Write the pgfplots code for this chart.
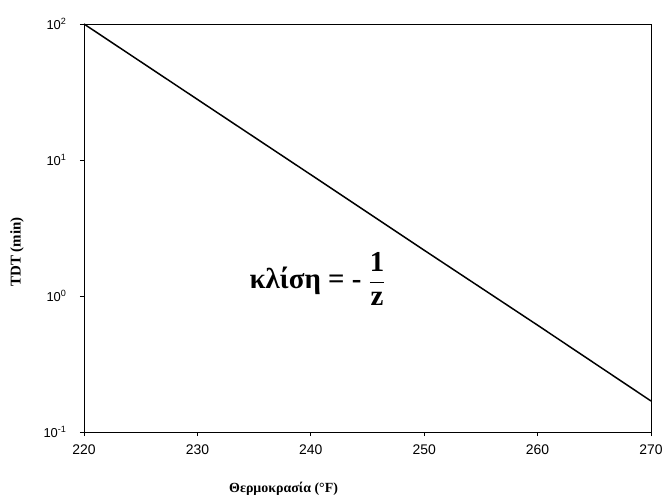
\documentclass[border=0pt]{standalone}
\usepackage{pgfplots}
\pgfplotsset{compat=1.18}
\usepackage{fontspec}
\setmainfont{Liberation Serif}
\setsansfont{Liberation Sans}

\begin{document}
\begin{tikzpicture}
\begin{axis}[
    scale only axis,
    width=567bp, height=408bp,
    ymode=log,
    xmin=220, xmax=270,
    ymin=0.1, ymax=100,
    xtick={220,230,...,270},
    ytick={0.1,1,10,100},
    yticklabels={10\textsuperscript{-1},10\textsuperscript{0},10\textsuperscript{1},10\textsuperscript{2}},
    minor tick num=0,
    log basis y=10,
    yminorticks=false,
    tick align=outside,
    tick pos=left,
    major tick length=4bp,
    tick style={black, line width=0.8pt},
    axis line style={black, line width=0.9pt},
    /pgf/number format/assume math mode=true,
    x tick label style={font=\sffamily\fontsize{14}{16}\selectfont, yshift=-5bp},
    y tick label style={font=\sffamily\fontsize{13}{15}\selectfont, xshift=-10bp},
    xlabel={\bfseries Θερμοκρασία (°F)},
    ylabel={\bfseries TDT (min)},
    xlabel style={font=\fontsize{14}{16}\selectfont, at={(axis description cs:0.352,-0.140)}, anchor=center},
    ylabel style={font=\fontsize{15}{17}\selectfont, at={(axis description cs:-0.118,0.441)}, anchor=center},
    clip=false,
]
% TDT curve
\addplot[black, line width=1.5pt] coordinates {
    (220,100) (230,27.9) (240,7.8) (250,2.17) (260,0.61) (270,0.169)
};
\node[anchor=center, font=\bfseries\fontsize{29}{33}\selectfont] at (axis cs:240.6,1.33)
    {κλίση = - $\displaystyle\frac{\textbf{1}}{\textbf{z}}$};
\end{axis}
\pgfresetboundingbox
\path[use as bounding box] (current axis.south west) ++(-84bp,-67bp) rectangle ++(664bp,499bp);
\end{tikzpicture}
\end{document}
